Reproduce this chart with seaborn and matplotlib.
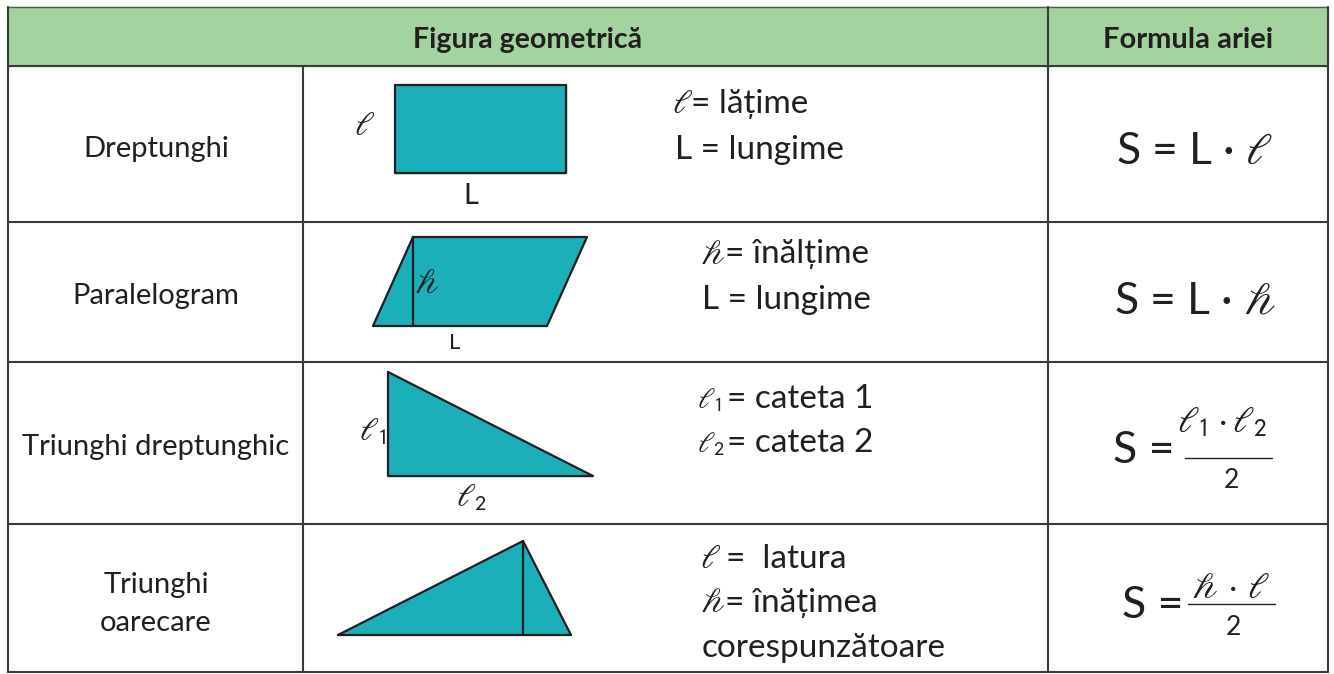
import numpy as np
import pandas as pd
import matplotlib.pyplot as plt
import seaborn as sns

# table text
header = ["Figura geometrică", "Formula ariei"]
shape_names = ["Dreptunghi", "Paralelogram", "Triunghi dreptunghic", "Triunghi\noarecare"]
name_base = [157, 304, 455, 593]

# grid of the table (pixels)
col_edges = [8, 303, 1048, 1328]
row_edges = [7, 66, 222, 362, 524, 672]

# shapes, vertices (pixels)
rect_x = [395, 566, 566, 395]
rect_y = [85, 85, 173, 173]
para_x = [413, 587, 547, 373]
para_y = [237, 237, 326, 326]
rtri_x = [388, 388, 593]
rtri_y = [372, 476, 476]
tri_x = [338, 523, 571]
tri_y = [635, 541, 635]
# heights drawn inside the shapes
para_hx = [413, 413]
para_hy = [237, 326]
tri_hx = [523, 523]
tri_hy = [541, 635]

ELL = r"$\ell$"
H = r"$\mathscr{h}$"

teal = "#1aafb9"
green = "#a3d49f"
ink = "#231f20"
grid_c = "#3a3a3a"

sns.set_theme(style="white")
plt.rcParams['font.family'] = ['Lato', 'DejaVu Sans']
plt.rcParams['mathtext.fontset'] = 'stix'

fig = plt.figure(figsize=(13.34, 6.74), dpi=100)
ax = fig.add_axes([0, 0, 1, 1])

# header
ax.fill_between(col_edges[::3], row_edges[0], row_edges[1], color=green, zorder=0)
ax.text((col_edges[0] + col_edges[2]) / 2, 48, header[0], fontsize=20.5, fontweight='bold',
        ha='center', va='baseline', color=ink)
ax.text((col_edges[2] + col_edges[3]) / 2, 48, header[1], fontsize=21, fontweight='bold',
        ha='center', va='baseline', color=ink)

# grid lines
lw = 1.5
for y in row_edges[1:]:
    ax.plot([col_edges[0], col_edges[-1]], [y, y], color=grid_c, lw=lw)
ax.plot([col_edges[0], col_edges[-1]], [row_edges[0]] * 2, color="#555555", lw=1)
for x in col_edges:
    y0 = row_edges[0] if x != col_edges[1] else row_edges[1]
    ax.plot([x, x], [y0, row_edges[-1]], color=grid_c, lw=lw)

# names
nfs = 21
for i, nm in enumerate(shape_names):
    for j, part in enumerate(nm.split("\n")):
        ax.text(156, name_base[i] + 38 * j, part, fontsize=nfs, ha='center', va='baseline', color=ink)

# shapes
shapes = {"rect": (rect_x, rect_y), "para": (para_x, para_y),
          "rtri": (rtri_x, rtri_y), "tri": (tri_x, tri_y)}
rows = []
for nm, (xs, ys) in shapes.items():
    ax.fill(xs, ys, color=teal, zorder=2)
    xs2 = list(xs) + [xs[0]]
    ys2 = list(ys) + [ys[0]]
    for k, (px, py) in enumerate(zip(xs2, ys2)):
        rows.append({"shape": nm, "k": k, "x": px, "y": py})
for nm, xs, ys in [("ph", para_hx, para_hy), ("th", tri_hx, tri_hy)]:
    for k, (px, py) in enumerate(zip(xs, ys)):
        rows.append({"shape": nm, "k": k, "x": px, "y": py})
outline = pd.DataFrame(rows)
sns.lineplot(data=outline, x="x", y="y", units="shape", estimator=None, sort=False,
             color=ink, lw=1.6, ax=ax, zorder=3)
ax.set_xlim(0, 1334)
ax.set_ylim(674, 0)
ax.axis('off')

# shape labels
ax.text(365, 126, ELL, fontsize=24, ha='center', va='center', color=ink)
ax.text(471, 196, "L", fontsize=21, ha='center', va='center', color=ink)
ax.text(427, 284, H, fontsize=24, ha='center', va='center', color=ink, zorder=4)
ax.text(455, 343, "L", fontsize=16, ha='center', va='center', color=ink)
ax.text(373, 432, r"$\ell_{\mathsf{1}}$", fontsize=23, ha='center', va='center', color=ink)
ax.text(472, 498, r"$\ell_{\mathsf{2}}$", fontsize=23, ha='center', va='center', color=ink)

# descriptions
fs = 24
ax.text(672, 113, ELL, fontsize=fs, ha='left', va='baseline', color=ink)
ax.text(691, 113, "= lățime", fontsize=fs, ha='left', va='baseline', color=ink)
ax.text(675, 159, "L = lungime", fontsize=fs, ha='left', va='baseline', color=ink)

ax.text(700, 264, H, fontsize=fs, ha='left', va='baseline', color=ink)
ax.text(725, 263, "= înălțime", fontsize=fs, ha='left', va='baseline', color=ink)
ax.text(702, 309, "L = lungime", fontsize=fs, ha='left', va='baseline', color=ink)

ax.text(697, 408, r"$\ell_{\mathsf{1}}$", fontsize=fs - 3, ha='left', va='baseline', color=ink)
ax.text(727, 408, "= cateta 1", fontsize=fs, ha='left', va='baseline', color=ink)
ax.text(697, 452, r"$\ell_{\mathsf{2}}$", fontsize=fs - 3, ha='left', va='baseline', color=ink)
ax.text(727, 452, "= cateta 2", fontsize=fs, ha='left', va='baseline', color=ink)

ax.text(700, 568, ELL, fontsize=fs, ha='left', va='baseline', color=ink)
ax.text(726, 568, "=  latura", fontsize=fs, ha='left', va='baseline', color=ink)
ax.text(700, 612, H, fontsize=fs, ha='left', va='baseline', color=ink)
ax.text(725, 612, "= înățimea", fontsize=fs, ha='left', va='baseline', color=ink)
ax.text(702, 657, "corespunzătoare", fontsize=fs, ha='left', va='baseline', color=ink)

# formulas
ffs = 32
ax.text(1195, 164, "S = L · " + ELL, fontsize=ffs, ha='center', va='baseline', color=ink)
ax.text(1195, 314, "S = L · " + H, fontsize=ffs, ha='center', va='baseline', color=ink)

ax.text(1113, 463, "S =", fontsize=ffs, ha='left', va='baseline', color=ink)
ax.text(1222, 432, r"$\ell_{\mathsf{1}} \cdot \ell_{\mathsf{2}}$", fontsize=26,
        ha='center', va='baseline', color=ink)
ax.plot([1185, 1272], [458, 458], color=ink, lw=1)
ax.text(1231, 488, "2", fontsize=19, ha='center', va='baseline', color=ink)

ax.text(1122, 618, "S =", fontsize=ffs, ha='left', va='baseline', color=ink)
ax.text(1231, 598, H + r"$\,\cdot\,$" + ELL, fontsize=26, ha='center', va='baseline', color=ink)
ax.plot([1188, 1275], [604, 604], color=ink, lw=1)
ax.text(1233, 635, "2", fontsize=19, ha='center', va='baseline', color=ink)

fig.savefig("out.png", dpi=100, facecolor="white")
